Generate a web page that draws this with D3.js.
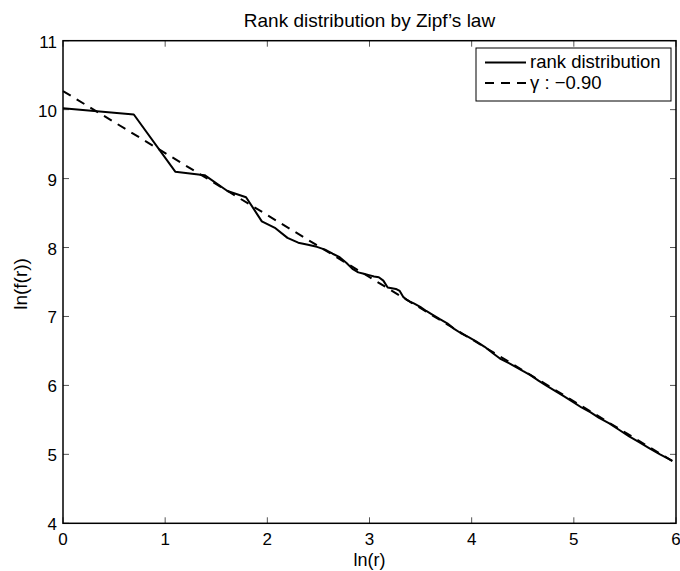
<!DOCTYPE html>
<html>
<head>
<meta charset="utf-8">
<script src="https://cdn.jsdelivr.net/npm/d3@7"></script>
<style>
  body { margin: 0; background: #fff; }
  svg text { font-family: "Liberation Sans", Arial, Helvetica, sans-serif; fill: #000; }
</style>
</head>
<body>
<div id="chart"></div>
<script>
// rank distribution (rank r, ln f(r))
var ranks = [1, 2, 3, 4, 5, 6, 7, 8, 9, 10, 11, 12, 13, 14, 15, 16, 17, 18, 19, 20,
  21, 22, 23, 24, 25, 26, 27, 28, 29, 30, 31, 33, 35, 37, 40, 43, 46, 49, 53, 57,
  62, 67, 72, 80, 90, 97, 105, 113, 125, 135, 147, 160, 175, 190, 210, 230, 255,
  280, 310, 345, 388];
var lnFreq = [10.02, 9.93, 9.10, 9.05, 8.82, 8.73, 8.38, 8.28, 8.14, 8.07, 8.04, 8.01,
  7.97, 7.91, 7.86, 7.78, 7.69, 7.64, 7.62, 7.60, 7.58, 7.57, 7.52, 7.42, 7.41, 7.40,
  7.37, 7.28, 7.24, 7.21, 7.19, 7.14, 7.08, 7.03, 6.96, 6.90, 6.82, 6.76, 6.70, 6.64,
  6.56, 6.47, 6.39, 6.31, 6.21, 6.15, 6.07, 6.00, 5.91, 5.84, 5.76, 5.68, 5.61, 5.53,
  5.45, 5.36, 5.26, 5.18, 5.09, 5.00, 4.91];

// fitted line, gamma = -0.90
var fitX = [0, 6];
var fitY = [10.27, 4.87];

var xTicks = [0, 1, 2, 3, 4, 5, 6];
var yTicks = [4, 5, 6, 7, 8, 9, 10, 11];
var legendLabels = ["rank distribution", "\u03b3 : \u22120.90"];

var width = 680, height = 571;
var margin = {left: 63, right: 4, top: 40.7, bottom: 47.7};

var svg = d3.select("#chart").append("svg")
  .attr("width", width)
  .attr("height", height);

var x = d3.scaleLinear().domain([0, 6]).range([margin.left, width - margin.right]);
var y = d3.scaleLinear().domain([4, 11]).range([height - margin.bottom, margin.top]);

var rankData = ranks.map(function (r, i) { return {x: Math.log(r), y: lnFreq[i]}; });
var fitData = fitX.map(function (v, i) { return {x: v, y: fitY[i]}; });

var line = d3.line()
  .x(function (d) { return x(d.x); })
  .y(function (d) { return y(d.y); });

// inner ticks on all four sides, like a matlab box
var tickLen = 6;
var ticksG = svg.append("g").attr("stroke", "#555").attr("stroke-width", 1);
xTicks.forEach(function (t) {
  ticksG.append("line").attr("x1", x(t)).attr("x2", x(t))
    .attr("y1", y(4)).attr("y2", y(4) - tickLen);
  ticksG.append("line").attr("x1", x(t)).attr("x2", x(t))
    .attr("y1", y(11)).attr("y2", y(11) + tickLen);
});
yTicks.forEach(function (t) {
  ticksG.append("line").attr("x1", x(0)).attr("x2", x(0) + tickLen)
    .attr("y1", y(t)).attr("y2", y(t));
  ticksG.append("line").attr("x1", x(6)).attr("x2", x(6) - tickLen)
    .attr("y1", y(t)).attr("y2", y(t));
});

// data lines
svg.append("path")
  .datum(rankData)
  .attr("fill", "none")
  .attr("stroke", "#000")
  .attr("stroke-width", 2)
  .attr("stroke-linejoin", "round")
  .attr("d", line);

svg.append("path")
  .datum(fitData)
  .attr("fill", "none")
  .attr("stroke", "#000")
  .attr("stroke-width", 2)
  .attr("stroke-dasharray", "9,7")
  .attr("d", line);

// box
svg.append("rect")
  .attr("x", x(0)).attr("y", y(11))
  .attr("width", x(6) - x(0)).attr("height", y(4) - y(11))
  .attr("fill", "none").attr("stroke", "#000").attr("stroke-width", 1.5);

// tick labels
svg.append("g").selectAll("text").data(xTicks).enter().append("text")
  .attr("x", function (d) { return x(d); })
  .attr("y", y(4) + 21.5)
  .attr("text-anchor", "middle")
  .attr("font-size", 17)
  .text(function (d) { return d; });

svg.append("g").selectAll("text").data(yTicks).enter().append("text")
  .attr("x", x(0) - 6)
  .attr("y", function (d) { return y(d) + 7; })
  .attr("text-anchor", "end")
  .attr("font-size", 17)
  .text(function (d) { return d; });

// titles
svg.append("text")
  .attr("x", (x(0) + x(6)) / 2).attr("y", 27)
  .attr("text-anchor", "middle").attr("font-size", 19)
  .text("Rank distribution by Zipf\u2019s law");

svg.append("text")
  .attr("x", (x(0) + x(6)) / 2).attr("y", 566)
  .attr("text-anchor", "middle").attr("font-size", 18)
  .text("ln(r)");

svg.append("text")
  .attr("transform", "translate(27," + ((y(4) + y(11)) / 2 + 2) + ") rotate(-90)")
  .attr("text-anchor", "middle").attr("font-size", 19)
  .text("ln(f(r))");

// legend
var lg = svg.append("g");
lg.append("rect")
  .attr("x", 476).attr("y", 48).attr("width", 195).attr("height", 53)
  .attr("fill", "#fff").attr("stroke", "#000").attr("stroke-width", 1);
legendLabels.forEach(function (lab, i) {
  var ly = 62.5 + i * 20.5;
  lg.append("line")
    .attr("x1", 485).attr("x2", 526).attr("y1", ly).attr("y2", ly)
    .attr("stroke", "#000").attr("stroke-width", 2)
    .attr("stroke-dasharray", i == 1 ? "9,7" : null);
  lg.append("text")
    .attr("x", 530).attr("y", ly + 5.5)
    .attr("font-size", 18.5)
    .text(lab);
});
</script>
</body>
</html>
